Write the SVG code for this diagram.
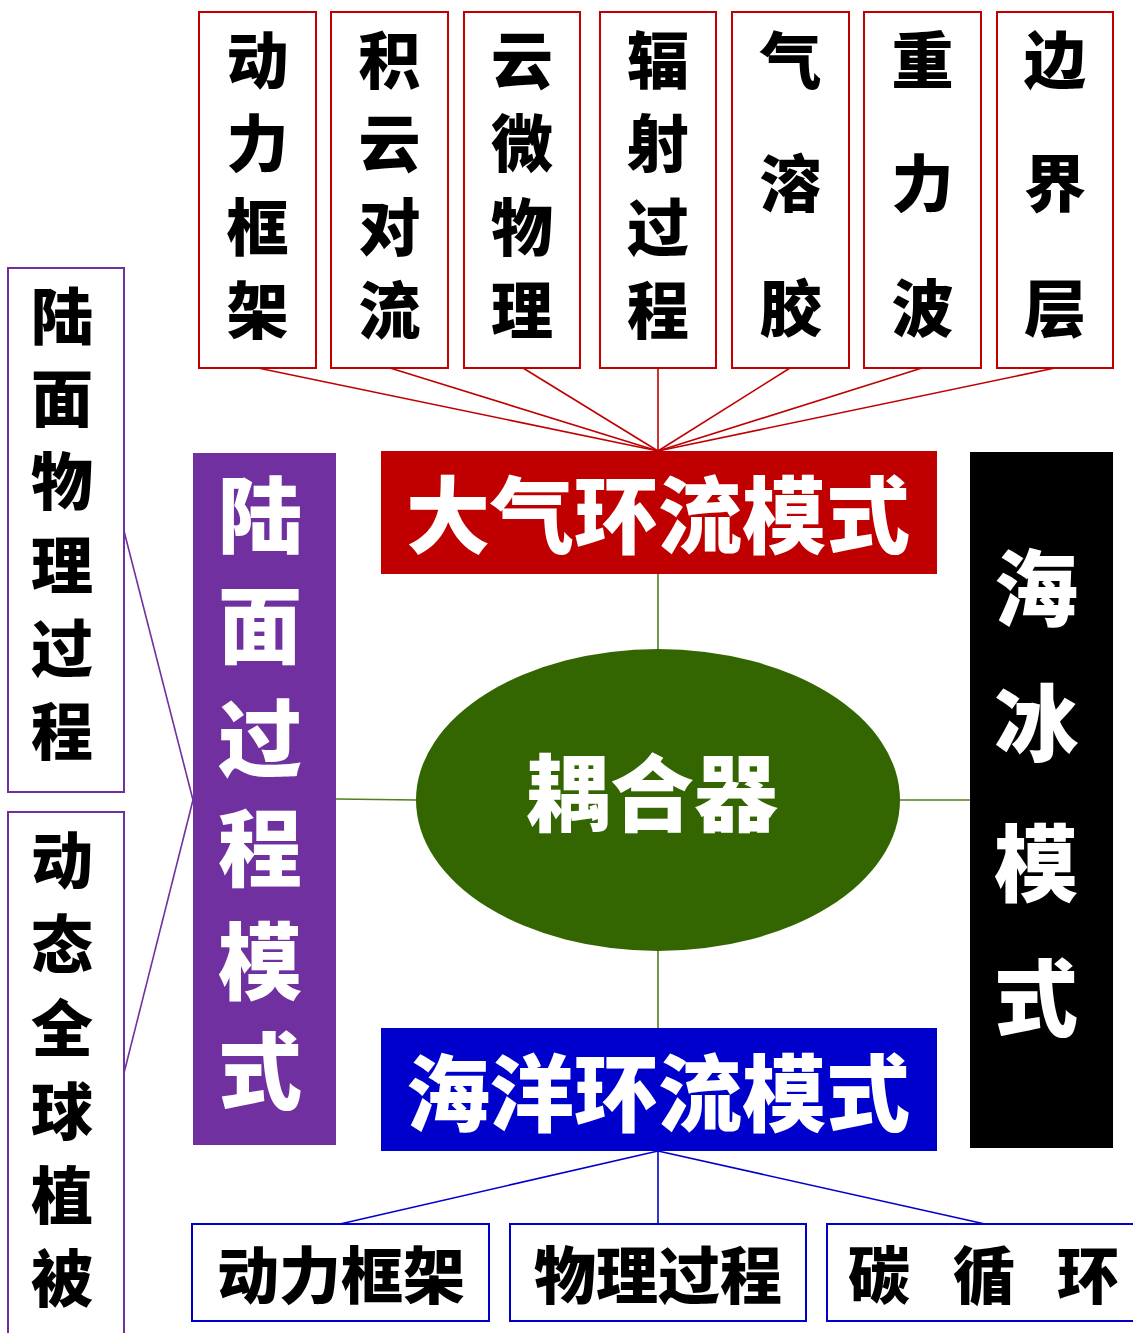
<svg xmlns="http://www.w3.org/2000/svg" width="1133" height="1333" viewBox="0 0 1133 1333">
<style>
.t{font-family:"Noto Sans CJK SC","Noto Sans CJK JP",sans-serif;font-weight:900;text-anchor:middle}
.s{font-size:62px;fill:#000}
.b{font-size:84px;fill:#fff}
.rb{fill:#fff;stroke:#C00000;stroke-width:2}
.pb{fill:#fff;stroke:#7030A0;stroke-width:2}
.bb{fill:#fff;stroke:#0000CC;stroke-width:2}
</style>
<rect width="1133" height="1333" fill="#fff"/>
<g id="connectors" fill="none">
<g stroke="#C00000" stroke-width="1.6">
<line x1="258" y1="368" x2="658" y2="451"/>
<line x1="390" y1="368" x2="658" y2="451"/>
<line x1="523" y1="368" x2="658" y2="451"/>
<line x1="658" y1="368" x2="658" y2="451"/>
<line x1="790" y1="368" x2="658" y2="451"/>
<line x1="922" y1="368" x2="658" y2="451"/>
<line x1="1055" y1="368" x2="658" y2="451"/>
</g>
<g stroke="#4F7F1F" stroke-width="1.6">
<line x1="658" y1="574" x2="658" y2="650"/>
<line x1="658" y1="950" x2="658" y2="1028"/>
<line x1="336" y1="799" x2="417" y2="800"/>
<line x1="899" y1="800" x2="970" y2="800"/>
</g>
<g stroke="#7030A0" stroke-width="1.6">
<line x1="124" y1="531" x2="193" y2="800"/>
<line x1="124" y1="1073" x2="193" y2="800"/>
</g>
<g stroke="#0000CC" stroke-width="1.6">
<line x1="658" y1="1151" x2="340" y2="1224"/>
<line x1="658" y1="1151" x2="658" y2="1224"/>
<line x1="658" y1="1151" x2="985" y2="1224"/>
</g>
</g>
<g id="top1"><rect class="rb" x="199" y="12" width="117" height="356"/><text class="t s"><tspan x="257.5" y="84">动</tspan><tspan x="257.5" y="167">力</tspan><tspan x="257.5" y="251">框</tspan><tspan x="257.5" y="334">架</tspan></text></g>
<g id="top2"><rect class="rb" x="331" y="12" width="117" height="356"/><text class="t s"><tspan x="389.5" y="84">积</tspan><tspan x="389.5" y="167">云</tspan><tspan x="389.5" y="251">对</tspan><tspan x="389.5" y="334">流</tspan></text></g>
<g id="top3"><rect class="rb" x="464" y="12" width="116" height="356"/><text class="t s"><tspan x="522" y="84">云</tspan><tspan x="522" y="167">微</tspan><tspan x="522" y="251">物</tspan><tspan x="522" y="334">理</tspan></text></g>
<g id="top4"><rect class="rb" x="600" y="12" width="116" height="356"/><text class="t s"><tspan x="658" y="84">辐</tspan><tspan x="658" y="167">射</tspan><tspan x="658" y="251">过</tspan><tspan x="658" y="334">程</tspan></text></g>
<g id="top5"><rect class="rb" x="732" y="12" width="117" height="356"/><text class="t s"><tspan x="790.5" y="84">气</tspan><tspan x="790.5" y="207">溶</tspan><tspan x="790.5" y="332">胶</tspan></text></g>
<g id="top6"><rect class="rb" x="864" y="12" width="117" height="356"/><text class="t s"><tspan x="922.5" y="84">重</tspan><tspan x="922.5" y="207">力</tspan><tspan x="922.5" y="332">波</tspan></text></g>
<g id="top7"><rect class="rb" x="997" y="12" width="116" height="356"/><text class="t s"><tspan x="1055" y="84">边</tspan><tspan x="1055" y="207">界</tspan><tspan x="1055" y="332">层</tspan></text></g>
<g id="atm"><rect x="381" y="451" width="556" height="123" fill="#C00000"/><text class="t b" x="658" y="547">大气环流模式</text></g>
<g id="ocean"><rect x="381" y="1028" width="556" height="123" fill="#0000CC"/><text class="t b" x="658" y="1125">海洋环流模式</text></g>
<g id="coupler"><ellipse cx="658" cy="800" rx="242" ry="151" fill="#336600"/><text class="t b" x="652" y="825">耦合器</text></g>
<g id="land"><rect x="193" y="453" width="143" height="692" fill="#7030A0"/><text class="t b"><tspan x="260" y="547">陆</tspan><tspan x="260" y="657">面</tspan><tspan x="260" y="770">过</tspan><tspan x="260" y="880">程</tspan><tspan x="260" y="993">模</tspan><tspan x="260" y="1103">式</tspan></text></g>
<g id="seaice"><rect x="970" y="452" width="143" height="696" fill="#000"/><text class="t b"><tspan x="1036" y="620">海</tspan><tspan x="1036" y="755">冰</tspan><tspan x="1036" y="895">模</tspan><tspan x="1036" y="1030">式</tspan></text></g>
<g id="landphys"><rect class="pb" x="8" y="268" width="116" height="524"/><text class="t s"><tspan x="62" y="340">陆</tspan><tspan x="62" y="422">面</tspan><tspan x="62" y="505">物</tspan><tspan x="62" y="589">理</tspan><tspan x="62" y="672">过</tspan><tspan x="62" y="755">程</tspan></text></g>
<g id="veg"><rect class="pb" x="8" y="812" width="116" height="530"/><text class="t s"><tspan x="62" y="884">动</tspan><tspan x="62" y="968">态</tspan><tspan x="62" y="1052">全</tspan><tspan x="62" y="1135">球</tspan><tspan x="62" y="1219">植</tspan><tspan x="62" y="1302">被</tspan></text></g>
<g id="bot1"><rect class="bb" x="192" y="1224" width="297" height="97"/><text class="t s" x="341" y="1299">动力框架</text></g>
<g id="bot2"><rect class="bb" x="510" y="1224" width="296" height="97"/><text class="t s" x="658" y="1299">物理过程</text></g>
<g id="bot3"><rect class="bb" x="827" y="1224" width="320" height="97"/><text class="t s" x="879 931 984 1036 1088" y="1299">碳 循 环</text></g>
</svg>
